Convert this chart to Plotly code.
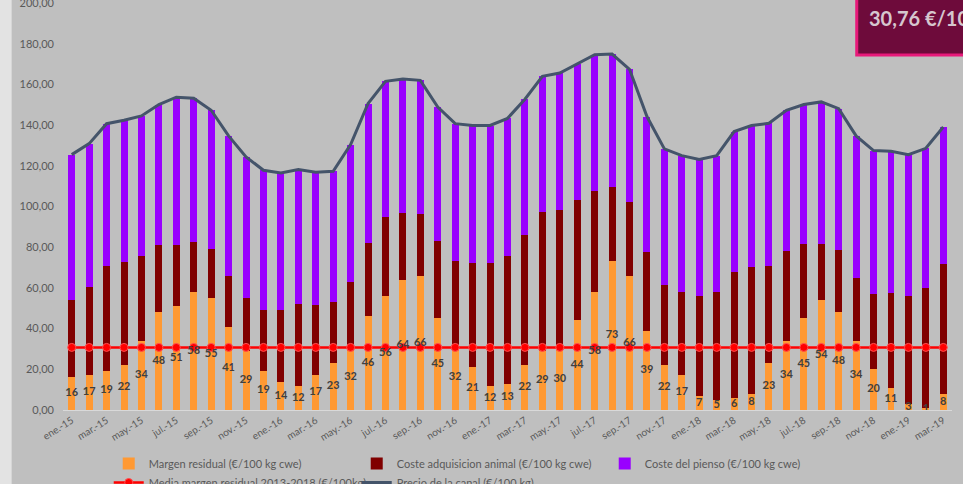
import plotly.graph_objects as go

meses = ["ene", "feb", "mar", "abr", "may", "jun", "jul", "ago", "sep", "oct", "nov", "dic"]
categorias = [f"{m}.-{a}" for a in ["15", "16", "17", "18"] for m in meses] + ["ene.-19", "feb.-19", "mar.-19"]

margen_residual = [16, 17, 19, 22, 34, 48, 51, 58, 55, 41, 29, 19,
                   14, 12, 17, 23, 32, 46, 56, 64, 66, 45, 32, 21,
                   12, 13, 22, 29, 30, 44, 58, 73, 66, 39, 22, 17,
                   7, 5, 6, 8, 23, 34, 45, 54, 48, 34, 20, 11,
                   3, 1, 8]
coste_adquisicion = [38.3, 43.5, 51.7, 50.5, 41.8, 33.2, 30.2, 24.6, 24.0, 24.9, 26.0, 30.2,
                     35.2, 40.2, 34.7, 29.9, 30.8, 36.0, 38.7, 32.9, 30.4, 38.0, 41.3, 51.0,
                     60.0, 62.6, 64.1, 68.5, 68.5, 59.2, 49.7, 36.6, 36.3, 38.4, 39.2, 41.1,
                     49.1, 52.8, 61.9, 62.2, 48.0, 44.1, 36.6, 27.6, 30.7, 31.0, 37.1, 46.4,
                     53.1, 59.0, 63.8]
coste_pienso = [71.2, 70.4, 70.0, 69.9, 68.7, 68.9, 72.5, 70.6, 68.3, 68.8, 69.4, 68.6,
                67.3, 66.0, 65.1, 64.4, 67.6, 68.6, 66.8, 65.8, 65.6, 65.9, 67.4, 67.8,
                67.8, 67.7, 66.6, 66.5, 67.1, 66.7, 66.9, 65.3, 65.1, 66.8, 67.1, 66.9,
                67.0, 67.2, 68.9, 69.6, 69.9, 69.2, 68.5, 69.8, 69.4, 69.7, 70.4, 69.7,
                69.4, 68.6, 67.3]
precio_canal = [125.5, 130.9, 140.7, 142.4, 144.5, 150.1, 153.7, 153.2, 147.3, 134.7, 124.4, 117.8,
                116.5, 118.2, 116.8, 117.3, 130.4, 150.6, 161.5, 162.7, 162.0, 148.9, 140.7, 139.8,
                139.8, 143.3, 152.7, 164.0, 165.6, 169.9, 174.6, 174.9, 167.4, 144.2, 128.3, 125.0,
                123.1, 125.0, 136.8, 139.8, 140.9, 147.3, 150.1, 151.4, 148.1, 134.7, 127.5, 127.1,
                125.5, 128.6, 139.1]
media_margen = 30.76
media_serie = [media_margen] * len(categorias)
y_ticks = [0, 20, 40, 60, 80, 100, 120, 140, 160, 180, 200]

FONT = "Lato"
GRIS = "#595959"

fig = go.Figure()
fig.add_trace(go.Bar(x=categorias, y=margen_residual, name="Margen residual (€/100 kg cwe)",
                     marker=dict(color="#ff9933", line=dict(width=0))))
fig.add_trace(go.Bar(x=categorias, y=coste_adquisicion, name="Coste adquisicion animal (€/100 kg cwe)",
                     marker=dict(color="#800000", line=dict(width=0))))
fig.add_trace(go.Bar(x=categorias, y=coste_pienso, name="Coste del pienso (€/100 kg cwe)",
                     marker=dict(color="#9900ff", line=dict(width=0))))
fig.add_trace(go.Scatter(x=categorias, y=media_serie, mode="lines+markers",
                         name="Media margen residual 2013-2018 (€/100kg)",
                         line=dict(color="#ff0000", width=2.5),
                         marker=dict(color="#ff0000", size=8, line=dict(color="#ff5050", width=1))))
fig.add_trace(go.Scatter(x=categorias, y=precio_canal, mode="lines",
                         name="Precio de la canal (€/100 kg)",
                         line=dict(color="#44546a", width=3)))
fig.add_trace(go.Scatter(x=categorias, y=[v / 2 for v in margen_residual], mode="text",
                         text=[str(v) for v in margen_residual], showlegend=False,
                         textfont=dict(family=FONT, size=11, color="#404040", weight="bold"),
                         hoverinfo="skip"))

L, R = 63.3, 951.7
T, B = 3, 410
W, H = 963, 484
def px(xp):
    return (xp - L) / (R - L)
def py(yp):
    return (B - yp) / (B - T)

fig.update_layout(
    width=W, height=H,
    margin=dict(l=L, r=W - R, t=T, b=H - B, autoexpand=False),
    barmode="stack", bargap=0.6,
    paper_bgcolor="#bfbfbf", plot_bgcolor="#bfbfbf",
    separators=",.",
    font=dict(family=FONT, color=GRIS),
    xaxis=dict(type="category", range=[-0.5, len(categorias) - 0.5],
               tickvals=categorias[::2], ticktext=categorias[::2],
               tickangle=-32, tickfont=dict(size=10, color=GRIS), showgrid=False,
               showline=True, linecolor="#d9d9d9", linewidth=1, ticks="", zeroline=False),
    yaxis=dict(range=[0, 200], tickvals=y_ticks, tickformat=".2f", showgrid=False,
               zeroline=False, showline=False, tickfont=dict(size=11, color=GRIS),
               ticklabelstandoff=8, ticklabeloverflow="allow"),
    legend=dict(orientation="h", x=px(109), xanchor="left", y=py(449), yanchor="top",
                entrywidth=203, entrywidthmode="pixels", font=dict(size=11, color=GRIS),
                bgcolor="rgba(0,0,0,0)", traceorder="normal"),
    shapes=[
        dict(type="rect", xref="paper", yref="paper", x0=px(-5), x1=px(12), y0=py(500), y1=py(-10),
             fillcolor="#e3e3e3", line=dict(width=0), layer="below"),
        dict(type="rect", xref="paper", yref="paper", x0=px(856.5), x1=px(1010), y0=py(55), y1=py(-10),
             fillcolor="#6e0b3b", line=dict(color="#e8197a", width=3), layer="above"),
    ],
    annotations=[
        dict(text="<b>30,76 €/100kg</b>", xref="paper", yref="paper", x=px(867), y=py(18),
             xanchor="left", yanchor="middle", showarrow=False,
             font=dict(family=FONT, size=20, color="#d6c6ce")),
    ],
    showlegend=True,
)

fig.write_html("out.html", config={"displayModeBar": False},
               post_script="document.body.style.margin='0px';document.body.style.overflow='hidden';")
